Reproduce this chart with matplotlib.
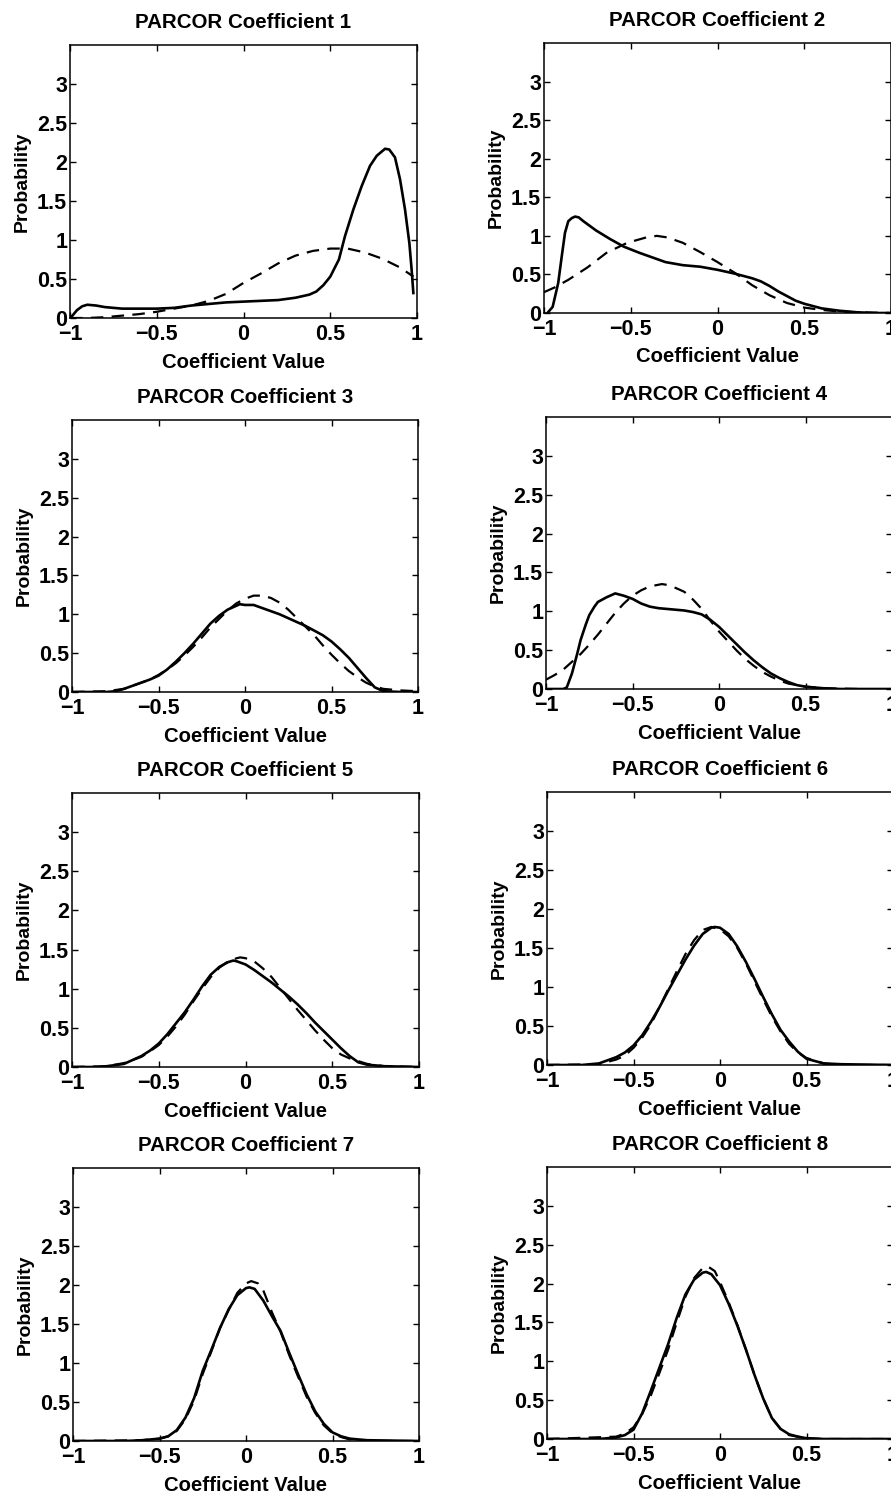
import matplotlib
matplotlib.use('Agg')
import matplotlib.pyplot as plt

plt.rcParams['font.family'] = ['Liberation Sans', 'DejaVu Sans']
plt.rcParams['font.weight'] = 'bold'
plt.rcParams['lines.scale_dashes'] = False

# ---------------- data ----------------
titles = ["PARCOR Coefficient %d" % i for i in range(1, 9)]
x_label = "Coefficient Value"
y_label = "Probability"
x_ticks = [-1, -0.5, 0, 0.5, 1]
x_tick_labels = ["\u22121", "\u22120.5", "0", "0.5", "1"]
y_ticks = [0, 0.5, 1, 1.5, 2, 2.5, 3]
y_tick_labels = ["0", "0.5", "1", "1.5", "2", "2.5", "3"]

# coefficient 1
c1_sx = [-0.99, -0.96, -0.93, -0.9, -0.85, -0.8, -0.7, -0.6, -0.5, -0.4, -0.3, -0.2, -0.1, 0.0, 0.1, 0.2,
         0.3, 0.38, 0.42, 0.46, 0.5, 0.55, 0.585, 0.633, 0.681, 0.729, 0.768, 0.816, 0.84, 0.873, 0.902,
         0.931, 0.956, 0.969, 0.979]
c1_sy = [0.02, 0.1, 0.15, 0.17, 0.16, 0.14, 0.12, 0.12, 0.12, 0.13, 0.16, 0.18, 0.2, 0.21, 0.22, 0.23,
         0.26, 0.3, 0.34, 0.42, 0.53, 0.75, 1.05, 1.39, 1.69, 1.95, 2.08, 2.17, 2.16, 2.06, 1.78,
         1.39, 0.96, 0.62, 0.32]
c1_dx = [-1.0, -0.9, -0.8, -0.7, -0.6, -0.5, -0.4, -0.3, -0.2, -0.1, 0.0, 0.1, 0.2, 0.3, 0.4, 0.5, 0.6,
         0.7, 0.8, 0.9, 0.98]
c1_dy = [0.0, 0.0, 0.01, 0.03, 0.05, 0.08, 0.12, 0.16, 0.22, 0.31, 0.45, 0.57, 0.70, 0.80, 0.86, 0.89,
         0.89, 0.84, 0.76, 0.65, 0.53]

# coefficient 2
c2_sx = [-0.98, -0.95, -0.918, -0.898, -0.879, -0.86, -0.84, -0.821, -0.8, -0.773, -0.7, -0.62, -0.54,
         -0.45, -0.35, -0.3, -0.2, -0.1, 0.0, 0.1, 0.2, 0.25, 0.3, 0.35, 0.4, 0.45, 0.5, 0.6, 0.7, 0.8,
         0.9, 1.0]
c2_sy = [0.0, 0.08, 0.39, 0.73, 1.04, 1.19, 1.23, 1.25, 1.24, 1.19, 1.07, 0.96, 0.86,
         0.78, 0.70, 0.66, 0.62, 0.60, 0.56, 0.51, 0.45, 0.41, 0.35, 0.28, 0.22, 0.16, 0.12, 0.06, 0.03,
         0.01, 0.0, 0.0]
c2_dx = [-1.0, -0.94, -0.86, -0.75, -0.64, -0.52, -0.41, -0.35, -0.29, -0.2, -0.1, 0.0, 0.1, 0.2, 0.3,
         0.4, 0.5, 0.6, 0.7, 0.8, 1.0]
c2_dy = [0.27, 0.33, 0.43, 0.59, 0.78, 0.91, 0.98, 1.0, 0.98, 0.91, 0.79, 0.66, 0.52, 0.36, 0.23,
         0.13, 0.07, 0.04, 0.02, 0.01, 0.0]

# coefficient 3
c3_sx = [-1.0, -0.9, -0.8, -0.75, -0.7, -0.65, -0.6, -0.55, -0.5, -0.45, -0.4, -0.35, -0.3, -0.25, -0.2,
         -0.15, -0.1, -0.03, 0.0, 0.05, 0.1, 0.15, 0.2, 0.25, 0.3, 0.35, 0.4, 0.45, 0.5, 0.55, 0.6, 0.65,
         0.7, 0.75, 0.8, 0.9, 1.0]
c3_sy = [0.0, 0.0, 0.0, 0.01, 0.04, 0.08, 0.12, 0.16, 0.21, 0.29, 0.39, 0.5, 0.62, 0.75, 0.88,
         0.98, 1.06, 1.13, 1.12, 1.12, 1.08, 1.04, 1.0, 0.95, 0.9, 0.85, 0.79, 0.73, 0.65, 0.55, 0.44, 0.31,
         0.18, 0.06, 0.01, 0.0, 0.0]
c3_dx = [-1.0, -0.8, -0.7, -0.65, -0.6, -0.55, -0.5, -0.45, -0.4, -0.35, -0.3, -0.25, -0.2, -0.15, -0.1,
         -0.05, 0.0, 0.05, 0.1, 0.15, 0.2, 0.25, 0.3, 0.35, 0.4, 0.45, 0.5, 0.55, 0.6, 0.65, 0.7, 0.75,
         0.8, 0.9, 1.0]
c3_dy = [0.0, 0.01, 0.04, 0.08, 0.12, 0.16, 0.22, 0.29, 0.37, 0.47, 0.58, 0.7, 0.83, 0.94, 1.05,
         1.14, 1.2, 1.24, 1.24, 1.21, 1.15, 1.06, 0.95, 0.84, 0.73, 0.6, 0.48, 0.37, 0.27, 0.19, 0.12, 0.07,
         0.04, 0.02, 0.01]

# coefficient 4
c4_sx = [-1.0, -0.9, -0.88, -0.85, -0.82, -0.8, -0.77, -0.75, -0.72, -0.7, -0.65, -0.6, -0.55, -0.5, -0.45,
         -0.4, -0.35, -0.3, -0.25, -0.2, -0.15, -0.1, -0.05, 0.0, 0.05, 0.1, 0.15, 0.2, 0.25, 0.3, 0.35,
         0.4, 0.45, 0.5, 0.6, 0.7, 1.0]
c4_sy = [0.0, 0.0, 0.02, 0.2, 0.45, 0.63, 0.83, 0.95, 1.06, 1.12, 1.18, 1.23, 1.2, 1.16, 1.1,
         1.06, 1.04, 1.03, 1.02, 1.01, 0.99, 0.96, 0.89, 0.8, 0.69, 0.58, 0.47, 0.37, 0.28, 0.2, 0.14,
         0.09, 0.05, 0.03, 0.01, 0.0, 0.0]
c4_dx = [-1.0, -0.95, -0.9, -0.85, -0.8, -0.75, -0.7, -0.65, -0.6, -0.55, -0.5, -0.45, -0.4, -0.33, -0.3,
         -0.25, -0.2, -0.15, -0.1, -0.05, 0.0, 0.05, 0.1, 0.15, 0.2, 0.25, 0.3, 0.35, 0.4, 0.5, 0.6, 0.8]
c4_dy = [0.12, 0.18, 0.25, 0.35, 0.45, 0.57, 0.7, 0.84, 0.98, 1.1, 1.2, 1.27, 1.32, 1.35, 1.34,
         1.3, 1.25, 1.15, 1.03, 0.88, 0.74, 0.62, 0.5, 0.39, 0.3, 0.22, 0.16, 0.11, 0.07, 0.03, 0.01, 0.0]

# coefficient 5
c5_sx = [-1.0, -0.85, -0.8, -0.7, -0.6, -0.55, -0.5, -0.45, -0.4, -0.35, -0.3, -0.25, -0.2, -0.15, -0.1,
         -0.07, -0.05, 0.0, 0.05, 0.1, 0.15, 0.2, 0.25, 0.3, 0.35, 0.4, 0.45, 0.5, 0.55, 0.6, 0.65, 0.7,
         0.8, 1.0]
c5_sy = [0.0, 0.0, 0.01, 0.04, 0.14, 0.21, 0.3, 0.42, 0.56, 0.7, 0.86, 1.03, 1.18, 1.28, 1.34,
         1.36, 1.35, 1.31, 1.24, 1.16, 1.08, 0.99, 0.9, 0.8, 0.69, 0.57, 0.46, 0.35, 0.24, 0.14, 0.06, 0.03,
         0.01, 0.0]
c5_dx = [-1.0, -0.8, -0.7, -0.6, -0.55, -0.5, -0.45, -0.4, -0.35, -0.3, -0.25, -0.2, -0.15, -0.1, -0.05,
         -0.03, 0.0, 0.05, 0.1, 0.15, 0.2, 0.25, 0.3, 0.35, 0.4, 0.45, 0.5, 0.55, 0.6, 0.7, 0.8, 1.0]
c5_dy = [0.0, 0.01, 0.05, 0.13, 0.2, 0.28, 0.39, 0.52, 0.67, 0.84, 1.0, 1.15, 1.27, 1.35, 1.39,
         1.40, 1.39, 1.35, 1.26, 1.15, 1.01, 0.87, 0.73, 0.6, 0.47, 0.35, 0.24, 0.16, 0.11, 0.04, 0.01, 0.0]

# coefficient 6
c6_sx = [-1.0, -0.8, -0.7, -0.6, -0.55, -0.5, -0.45, -0.4, -0.35, -0.3, -0.25, -0.2, -0.15, -0.1, -0.05,
         -0.03, 0.0, 0.05, 0.1, 0.15, 0.2, 0.25, 0.3, 0.35, 0.4, 0.45, 0.5, 0.6, 0.7, 1.0]
c6_sy = [0.0, 0.0, 0.02, 0.1, 0.16, 0.25, 0.38, 0.55, 0.74, 0.95, 1.15, 1.35, 1.53, 1.68, 1.76,
         1.77, 1.76, 1.68, 1.52, 1.32, 1.1, 0.87, 0.65, 0.45, 0.3, 0.17, 0.08, 0.02, 0.01, 0.0]
c6_dx = [-1.0, -0.7, -0.6, -0.55, -0.5, -0.45, -0.4, -0.35, -0.3, -0.25, -0.2, -0.15, -0.1, -0.05, 0.0,
         0.05, 0.1, 0.15, 0.2, 0.25, 0.3, 0.35, 0.4, 0.45, 0.5, 0.6, 0.7, 1.0]
c6_dy = [0.0, 0.01, 0.07, 0.12, 0.22, 0.35, 0.52, 0.74, 0.97, 1.2, 1.42, 1.6, 1.73, 1.77, 1.74,
         1.65, 1.5, 1.3, 1.07, 0.84, 0.62, 0.43, 0.27, 0.16, 0.09, 0.02, 0.0, 0.0]

# coefficient 7
c7_sx = [-1.0, -0.7, -0.6, -0.5, -0.45, -0.4, -0.35, -0.3, -0.25, -0.2, -0.15, -0.1, -0.05, 0.0, 0.02,
         0.05, 0.1, 0.15, 0.2, 0.25, 0.3, 0.35, 0.4, 0.45, 0.5, 0.55, 0.6, 0.7, 1.0]
c7_sy = [0.0, 0.0, 0.01, 0.03, 0.06, 0.14, 0.3, 0.55, 0.9, 1.17, 1.45, 1.69, 1.87, 1.96, 1.97,
         1.95, 1.8, 1.6, 1.41, 1.13, 0.86, 0.6, 0.38, 0.22, 0.11, 0.06, 0.03, 0.01, 0.0]
c7_dx = [-1.0, -0.6, -0.5, -0.45, -0.4, -0.35, -0.3, -0.25, -0.2, -0.15, -0.1, -0.05, 0.0, 0.03, 0.07,
         0.1, 0.15, 0.2, 0.25, 0.3, 0.35, 0.4, 0.45, 0.5, 0.55, 0.6, 0.7, 1.0]
c7_dy = [0.0, 0.01, 0.03, 0.06, 0.13, 0.28, 0.52, 0.86, 1.15, 1.45, 1.68, 1.9, 2.02, 2.05, 2.02,
         1.93, 1.65, 1.4, 1.1, 0.83, 0.57, 0.36, 0.2, 0.1, 0.05, 0.02, 0.0, 0.0]

# coefficient 8
c8_sx = [-1.0, -0.7, -0.6, -0.55, -0.5, -0.45, -0.4, -0.35, -0.3, -0.25, -0.2, -0.15, -0.1, -0.08, -0.05,
         0.0, 0.05, 0.1, 0.15, 0.2, 0.25, 0.3, 0.35, 0.4, 0.45, 0.5, 0.6, 1.0]
c8_sy = [0.0, 0.0, 0.02, 0.05, 0.12, 0.33, 0.62, 0.92, 1.22, 1.56, 1.86, 2.05, 2.14, 2.15, 2.12,
         1.98, 1.74, 1.46, 1.15, 0.82, 0.52, 0.27, 0.13, 0.06, 0.03, 0.01, 0.0, 0.0]
c8_dx = [-1.0, -0.6, -0.55, -0.5, -0.45, -0.4, -0.35, -0.3, -0.25, -0.2, -0.15, -0.1, -0.07, -0.03, 0.0,
         0.05, 0.1, 0.15, 0.2, 0.25, 0.3, 0.35, 0.4, 0.5, 0.6, 1.0]
c8_dy = [0.0, 0.03, 0.07, 0.15, 0.32, 0.56, 0.85, 1.15, 1.5, 1.83, 2.07, 2.2, 2.22, 2.16, 2.02,
         1.76, 1.47, 1.15, 0.82, 0.52, 0.27, 0.13, 0.05, 0.01, 0.0, 0.0]

solid = [(c1_sx, c1_sy), (c2_sx, c2_sy), (c3_sx, c3_sy), (c4_sx, c4_sy),
         (c5_sx, c5_sy), (c6_sx, c6_sy), (c7_sx, c7_sy), (c8_sx, c8_sy)]
dashed = [(c1_dx, c1_dy), (c2_dx, c2_dy), (c3_dx, c3_dy), (c4_dx, c4_dy),
          (c5_dx, c5_dy), (c6_dx, c6_dy), (c7_dx, c7_dy), (c8_dx, c8_dy)]

# ---------------- layout ----------------
W, H = 891, 1496
# axes boxes in pixels: left, top, right, bottom
boxes = [(70, 45, 417, 318), (544, 43, 891, 313),
         (72, 420, 418, 692), (546, 417, 892, 689),
         (72, 793, 419, 1067), (547, 792, 893, 1065),
         (73, 1168, 419, 1441), (547, 1167, 893, 1439)]

fig = plt.figure(figsize=(W / 100, H / 100), dpi=100)
fig.patch.set_facecolor('white')

for i in range(8):
    l, t, r, b = boxes[i]
    ax = fig.add_axes([l / W, 1 - b / H, (r - l) / W, (b - t) / H])
    sx, sy = solid[i]
    dx, dy = dashed[i]
    ax.plot(dx, dy, color='black', lw=1.6, linestyle=(0, (9, 6)))
    ax.plot(sx, sy, color='black', lw=1.9, solid_joinstyle='round')
    ax.set_xlim(-1, 1)
    ax.set_ylim(0, 3.5)
    ax.set_xticks(x_ticks)
    ax.set_xticklabels(x_tick_labels)
    ax.set_yticks(y_ticks)
    ax.set_yticklabels(y_tick_labels)
    ax.tick_params(direction='in', top=True, right=True, length=4, width=1.0,
                   labelsize=15.5, colors='black')
    ax.tick_params(axis='x', pad=4)
    ax.tick_params(axis='y', pad=2)
    for s in ax.spines.values():
        s.set_linewidth(1.1)
    ax.set_title(titles[i], fontsize=14.8, fontweight='bold', pad=12.5)
    ax.set_xlabel(x_label, fontsize=14.6, fontweight='bold')
    ax.set_ylabel(y_label, fontsize=14, fontweight='bold')
    ax.xaxis.set_label_coords(0.5, -0.127)
    ax.yaxis.set_label_coords(-0.112, 0.5)

fig.savefig('out.png', dpi=100, facecolor='white')
